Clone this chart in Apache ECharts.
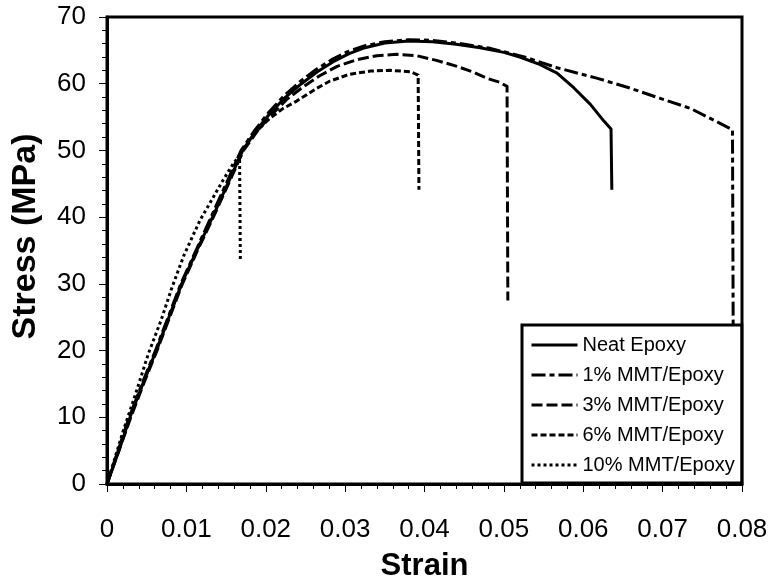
<!DOCTYPE html>
<html>
<head>
<meta charset="utf-8">
<script src="https://cdn.jsdelivr.net/npm/echarts@6/dist/echarts.min.js"></script>
<style>
  html, body { margin: 0; padding: 0; background: #fff; }
  #chart { width: 774px; height: 587px; }
</style>
</head>
<body>
<div id="chart"></div>
<script>
// Tensile stress-strain curves of epoxy and MMT/epoxy nanocomposites
const seriesNames = ['Neat Epoxy', '1% MMT/Epoxy', '3% MMT/Epoxy', '6% MMT/Epoxy', '10% MMT/Epoxy'];

// last point of each curve is the stress right after fracture
const neatStrain = [0, 0.0015, 0.0029, 0.0045, 0.0062, 0.0078, 0.0094, 0.0113, 0.0133, 0.0152, 0.0171, 0.0188, 0.0205, 0.0225, 0.0245, 0.0265, 0.0285, 0.0305, 0.0325, 0.035, 0.038, 0.041, 0.044, 0.047, 0.050, 0.052, 0.0545, 0.0567, 0.0588, 0.0609, 0.0626, 0.0635, 0.0636];
const neatStress = [0, 5, 10, 15, 20, 25, 30, 35, 40, 45, 50, 53, 55.5, 58, 60, 61.8, 63.3, 64.5, 65.4, 66.1, 66.4, 66.3, 65.9, 65.4, 64.7, 64.0, 62.9, 61.6, 59.4, 56.9, 54.4, 53.2, 44.1];

const mmt1Strain = [0, 0.0014, 0.0028, 0.0044, 0.0061, 0.0077, 0.0093, 0.0112, 0.0131, 0.0150, 0.0169, 0.0186, 0.0203, 0.0223, 0.0243, 0.0263, 0.0283, 0.0303, 0.0325, 0.035, 0.038, 0.041, 0.044, 0.0483, 0.0529, 0.0567, 0.0618, 0.066, 0.0697, 0.0735, 0.0765, 0.0788, 0.0789];
const mmt1Stress = [0, 5, 10, 15, 20, 25, 30, 35, 40, 45, 50, 53, 55.6, 58.2, 60.3, 62.1, 63.6, 64.8, 65.7, 66.3, 66.6, 66.5, 66.1, 65.3, 63.9, 62.4, 60.8, 59.3, 57.8, 56.3, 54.5, 53.1, 20];

const mmt3Strain = [0, 0.0015, 0.003, 0.0046, 0.0063, 0.0079, 0.0095, 0.0114, 0.0134, 0.0153, 0.0172, 0.019, 0.0207, 0.0227, 0.0248, 0.0268, 0.029, 0.0315, 0.034, 0.0365, 0.039, 0.0415, 0.0441, 0.046, 0.0479, 0.0495, 0.0504, 0.0505];
const mmt3Stress = [0, 5, 10, 15, 20, 25, 30, 35, 40, 45, 50, 53, 55.3, 57.7, 59.6, 61.2, 62.6, 63.6, 64.2, 64.4, 64.2, 63.5, 62.6, 61.8, 60.8, 60.2, 59.6, 27.5];

const mmt6Strain = [0, 0.0014, 0.0028, 0.0045, 0.0062, 0.0078, 0.0094, 0.0113, 0.0132, 0.0151, 0.0170, 0.0185, 0.0205, 0.0222, 0.0239, 0.0264, 0.0281, 0.0305, 0.0332, 0.0357, 0.0382, 0.0392, 0.0393];
const mmt6Stress = [0, 5, 10, 15, 20, 25, 30, 35, 40, 45, 50, 52.5, 54.8, 56.3, 57.4, 59.3, 60.4, 61.4, 61.9, 62.0, 61.8, 61.3, 44.1];

const mmt10Strain = [0, 0.002, 0.0036, 0.0052, 0.0068, 0.0082, 0.0097, 0.0117, 0.0133, 0.0146, 0.016, 0.0167, 0.0168];
const mmt10Stress = [0, 7.8, 13.5, 19.5, 24.5, 29.5, 34.3, 39.5, 42.8, 45.5, 48.2, 49.2, 33.7];

const strainTicks = [0, 0.01, 0.02, 0.03, 0.04, 0.05, 0.06, 0.07, 0.08];
const stressTicks = [0, 10, 20, 30, 40, 50, 60, 70];

const dashPatterns = ['solid', [14, 4, 5, 4], [11, 4], [6, 3], [3, 3]];
const strainSets = [neatStrain, mmt1Strain, mmt3Strain, mmt6Strain, mmt10Strain];
const stressSets = [neatStress, mmt1Stress, mmt3Stress, mmt6Stress, mmt10Stress];

const pairs = (xs, ys) => xs.map((x, i) => [x, ys[i]]);

const chart = echarts.init(document.getElementById('chart'), null, { renderer: 'canvas' });

const font = 'Liberation Sans, Arial, Helvetica, sans-serif';

const series = seriesNames.map((name, i) => ({
  name,
  type: 'line',
  data: pairs(strainSets[i], stressSets[i]),
  showSymbol: false,
  symbol: 'none',
  smooth: false,
  lineStyle: { color: '#000', width: 3, type: dashPatterns[i], cap: 'butt', join: 'round' },
  itemStyle: { color: '#000' },
  z: 2 + i
}));

chart.setOption({
  animation: false,
  backgroundColor: '#fff',
  grid: {
    left: 107, right: 32, top: 17, bottom: 96,
    show: true, borderColor: '#000', borderWidth: 3, backgroundColor: 'transparent'
  },
  xAxis: {
    type: 'value',
    min: strainTicks[0], max: strainTicks[strainTicks.length - 1], interval: 0.01,
    name: 'Strain', nameLocation: 'middle', nameGap: 67,
    nameTextStyle: { fontFamily: font, fontWeight: 'bold', fontSize: 31, color: '#000' },
    axisLine: { show: true, lineStyle: { color: '#000', width: 3 } },
    axisTick: { show: true, inside: false, length: 8, lineStyle: { color: '#000', width: 1 } },
    minorTick: { show: true, splitNumber: 5, length: 5, lineStyle: { color: '#000', width: 1 } },
    splitLine: { show: false },
    axisLabel: {
      margin: 33, fontFamily: font, fontSize: 26, color: '#000',
      formatter: v => String(+v.toFixed(2))
    }
  },
  yAxis: {
    type: 'value',
    min: stressTicks[0], max: stressTicks[stressTicks.length - 1], interval: 10,
    name: 'Stress (MPa)', nameLocation: 'middle', nameGap: 64,
    nameTextStyle: { fontFamily: font, fontWeight: 'bold', fontSize: 34, color: '#000', padding: [0, 0, 0, 28] },
    axisLine: { show: true, lineStyle: { color: '#000', width: 3 } },
    axisTick: { show: true, inside: false, length: 8, lineStyle: { color: '#000', width: 1 } },
    minorTick: { show: true, splitNumber: 5, length: 5, lineStyle: { color: '#000', width: 1 } },
    splitLine: { show: false },
    axisLabel: { margin: 21, fontFamily: font, fontSize: 26, color: '#000' }
  },
  legend: {
    show: true,
    orient: 'vertical',
    left: 522, top: 325,
    backgroundColor: '#fff',
    borderColor: '#000', borderWidth: 3,
    padding: [10, 7, 8, 8],
    itemWidth: 46, itemHeight: 14, itemGap: 10,
    itemStyle: { opacity: 0 },
    lineStyle: { width: 3, color: '#000' },
    textStyle: { fontFamily: font, fontSize: 20, color: '#000', lineHeight: 20 },
    data: seriesNames
  },
  series
});
</script>
</body>
</html>
